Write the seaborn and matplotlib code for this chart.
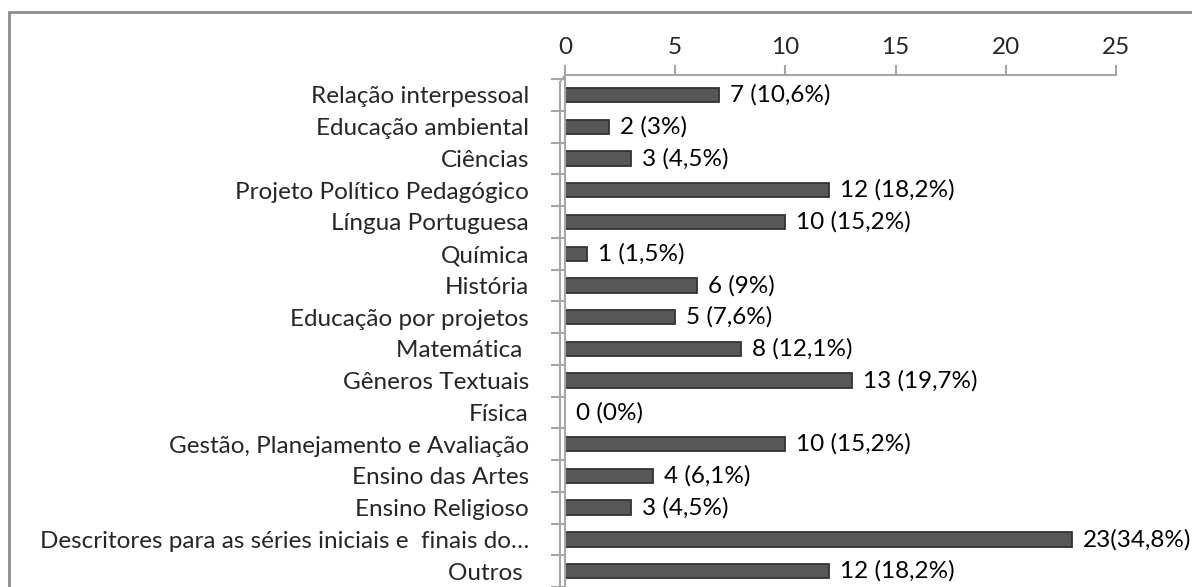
import pandas as pd
import matplotlib.pyplot as plt
import seaborn as sns
from matplotlib.patches import Rectangle

categorias = [
    "Relação interpessoal",
    "Educação ambiental",
    "Ciências",
    "Projeto Político Pedagógico",
    "Língua Portuguesa",
    "Química",
    "História",
    "Educação por projetos",
    "Matemática ",
    "Gêneros Textuais",
    "Física",
    "Gestão, Planejamento e Avaliação",
    "Ensino das Artes",
    "Ensino Religioso",
    "Descritores para as séries iniciais e  finais do…",
    "Outros ",
]
valores = [7, 2, 3, 12, 10, 1, 6, 5, 8, 13, 0, 10, 4, 3, 23, 12]
rotulos = ["7 (10,6%)", "2 (3%)", "3 (4,5%)", "12 (18,2%)", "10 (15,2%)",
           "1 (1,5%)", "6 (9%)", "5 (7,6%)", "8 (12,1%)", "13 (19,7%)",
           "0 (0%)", "10 (15,2%)", "4 (6,1%)", "3 (4,5%)", "23(34,8%)",
           "12 (18,2%)"]
ticks_x = [0, 5, 10, 15, 20, 25]

df = pd.DataFrame({"categoria": categorias, "valor": valores})

sns.set_theme(style="white")
plt.rcParams['font.family'] = ['Lato', 'DejaVu Sans']
fs = 17.5

fig = plt.figure(figsize=(11.92, 5.87), dpi=100)
ax = fig.add_axes([565 / 1192, 0, (1116 - 565) / 1192, 1 - 75 / 587])

sns.barplot(data=df, x="valor", y="categoria", orient="h", color="#575757",
            width=0.45, edgecolor="#333333", linewidth=1.3, saturation=1,
            ax=ax)

for i, (v, txt) in enumerate(zip(valores, rotulos)):
    ax.text(v + 0.5, i, txt, va="center", ha="left", fontsize=fs,
            color="black")

ax.set_xlim(0, 25)
ax.set_ylim(15.42, -0.627)
ax.set_xticks(ticks_x)
ax.xaxis.tick_top()
ax.tick_params(axis="x", direction="out", length=7, width=1.5, color="#a6a6a6",
               labelsize=fs, pad=5, top=True, bottom=False)
ax.set_yticks(range(len(categorias)))
ax.set_yticklabels(categorias)
ax.tick_params(axis="y", length=0, labelsize=fs, pad=26)
ax.set_yticks([i + 0.5 for i in range(-1, len(categorias))], minor=True)
ax.tick_params(axis="y", which="minor", direction="out", length=10, width=1.5,
               color="#a6a6a6", left=True)
ax.set_xlabel("")
ax.set_ylabel("")

for s in ["right", "bottom"]:
    ax.spines[s].set_visible(False)
ax.spines["top"].set_color("#a6a6a6")
ax.spines["top"].set_linewidth(1.5)
ax.spines["left"].set_color("#a6a6a6")
ax.spines["left"].set_linewidth(1.5)

# parede lateral (efeito 3D)
dx = -5 / 551
ax.plot([dx, dx], [0, 1 - 7 / 512], transform=ax.transAxes, color="#a6a6a6",
        lw=1.5, clip_on=False)
ax.plot([dx, 0], [1 - 7 / 512, 1], transform=ax.transAxes, color="#a6a6a6",
        lw=1.2, clip_on=False)

fig.patches.append(Rectangle((9 / 1192, -0.05), 1.2, 1 - 12 / 587 + 0.05,
                             transform=fig.transFigure, fill=False,
                             edgecolor="#8c8c8c", linewidth=2))

fig.savefig("out.png", dpi=100)
